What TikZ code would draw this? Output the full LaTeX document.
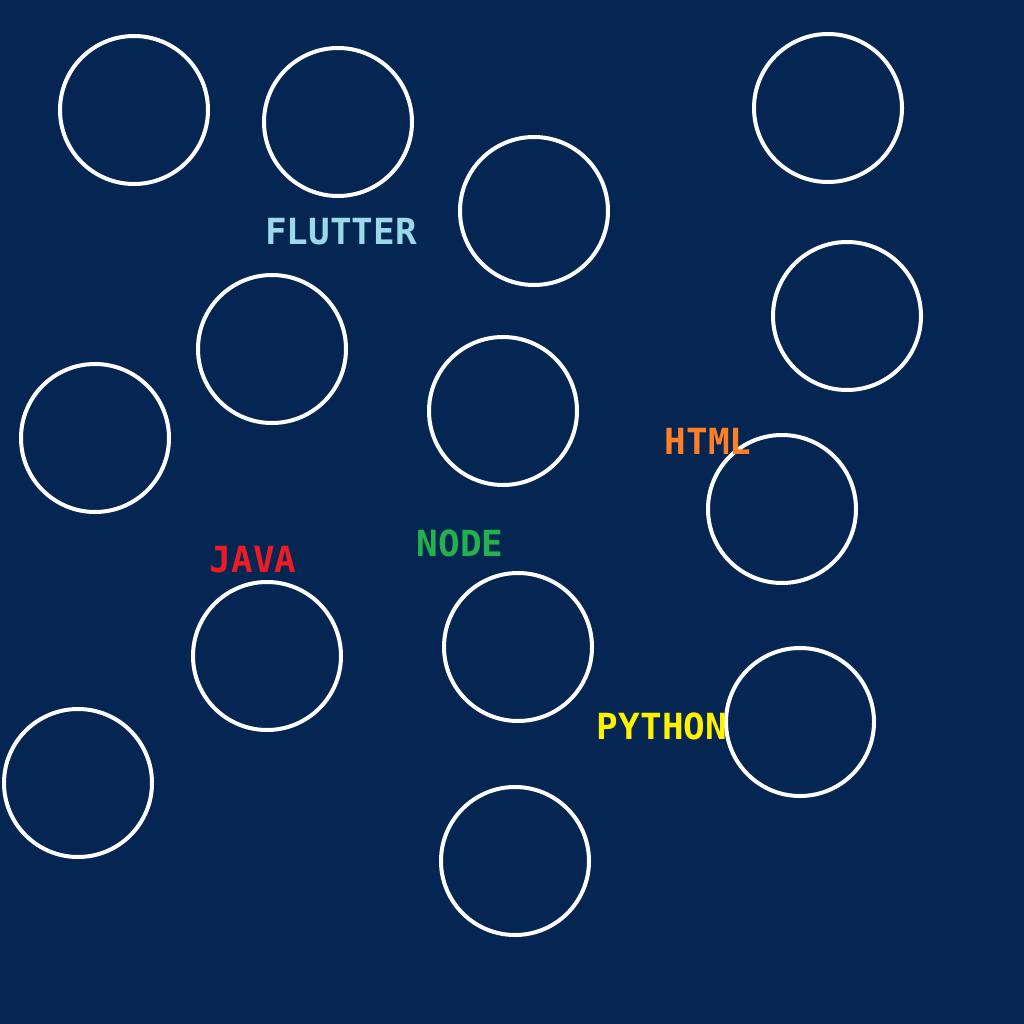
\documentclass[tikz,border=0pt]{standalone}
\usepackage{fontspec}
\setmonofont{DejaVu Sans Mono}
\usetikzlibrary{positioning}
\definecolor{NightBlue}{HTML}{052652}
\definecolor{FlutterBlue}{HTML}{99D9EA}
\definecolor{HtmlOrange}{HTML}{FF7F27}
\definecolor{NodeGreen}{HTML}{22B14C}
\definecolor{JavaRed}{HTML}{ED1C24}
\definecolor{PythonYellow}{HTML}{FFF200}

\begin{document}
\begin{tikzpicture}[
				x=1pt, y=-1pt,
				ring/.style={draw=white, line width=4pt},
				lang/.style={inner sep=0pt, font=\ttfamily\bfseries\fontsize{36}{40}\selectfont}
				]
				\pgfmathsetmacro{\RingRadius}{74}
				% background and fixed size
				\fill[NightBlue] (0,0) rectangle (1024,1024);
				\useasboundingbox (0,0) rectangle (1024,1024);
				% the rings
				\foreach \cx/\cy [count=\i] in {134/110, 338/122, 534/211, 828/108, 847/316, 272/349, 95/438, 503/411, 782/509, 267/656, 518/647, 800/722, 78/783, 515/861}
				{
					\draw[ring] (\cx,\cy) circle (\RingRadius);
				}
				% the labels
				\node[lang, text=FlutterBlue] (Flutter) at (341,232) {FLUTTER};
				\node[lang, text=HtmlOrange] (Html) at (708,441) {HTML};
				\node[lang, text=NodeGreen] (NodeJs) at (460,543) {NODE};
				\node[lang, text=JavaRed] (Java) at (253,560) {JAVA};
				\node[lang, text=PythonYellow] (Python) at (662,726) {PYTHON};
			\end{tikzpicture}
\end{document}
